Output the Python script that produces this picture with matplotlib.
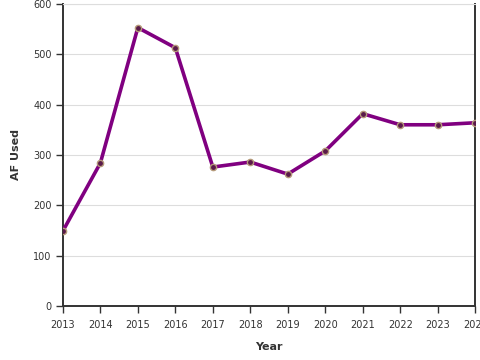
import matplotlib
matplotlib.use("Agg")
import matplotlib.pyplot as plt

years = [2013, 2014, 2015, 2016, 2017, 2018, 2019, 2020, 2021, 2022, 2023, 2024]
af_used = [149, 284, 553, 513, 276, 286, 262, 308, 382, 360, 360, 364]

fig = plt.figure(figsize=(4.8, 3.6), dpi=100)
ax = fig.add_axes([0.131, 0.15, 0.859, 0.839])

ax.plot(years, af_used, color="#800080", linewidth=2.6, zorder=3,
        marker="o", markersize=4.5, markerfacecolor="#5a1a4a",
        markeredgecolor="#b59a7a", markeredgewidth=1.0)

ax.set_xlim(2013, 2024)
ax.set_ylim(0, 600)
ax.set_xticks(years)
ax.set_xticklabels([str(y) for y in years])
ax.set_yticks(range(0, 601, 100))

ax.grid(axis="y", color="#dddddd", linewidth=0.8)
ax.set_axisbelow(True)

for side in ["left", "bottom", "right"]:
    ax.spines[side].set_color("#333333")
    ax.spines[side].set_linewidth(1.4)
ax.spines["top"].set_color("#dddddd")
ax.spines["top"].set_linewidth(0.8)

ax.tick_params(axis="both", length=5, width=1, color="#333333",
               labelsize=7, labelcolor="#333333", pad=3)
ax.tick_params(axis="x", pad=5)

# the last year label runs past the right edge, as in the original chart
ax.set_xlabel("Year", fontsize=8, fontweight="bold", color="#333333", labelpad=9)
ax.set_ylabel("AF Used", fontsize=8, fontweight="bold", color="#333333", labelpad=9)

fig.savefig("out.png", dpi=100)
